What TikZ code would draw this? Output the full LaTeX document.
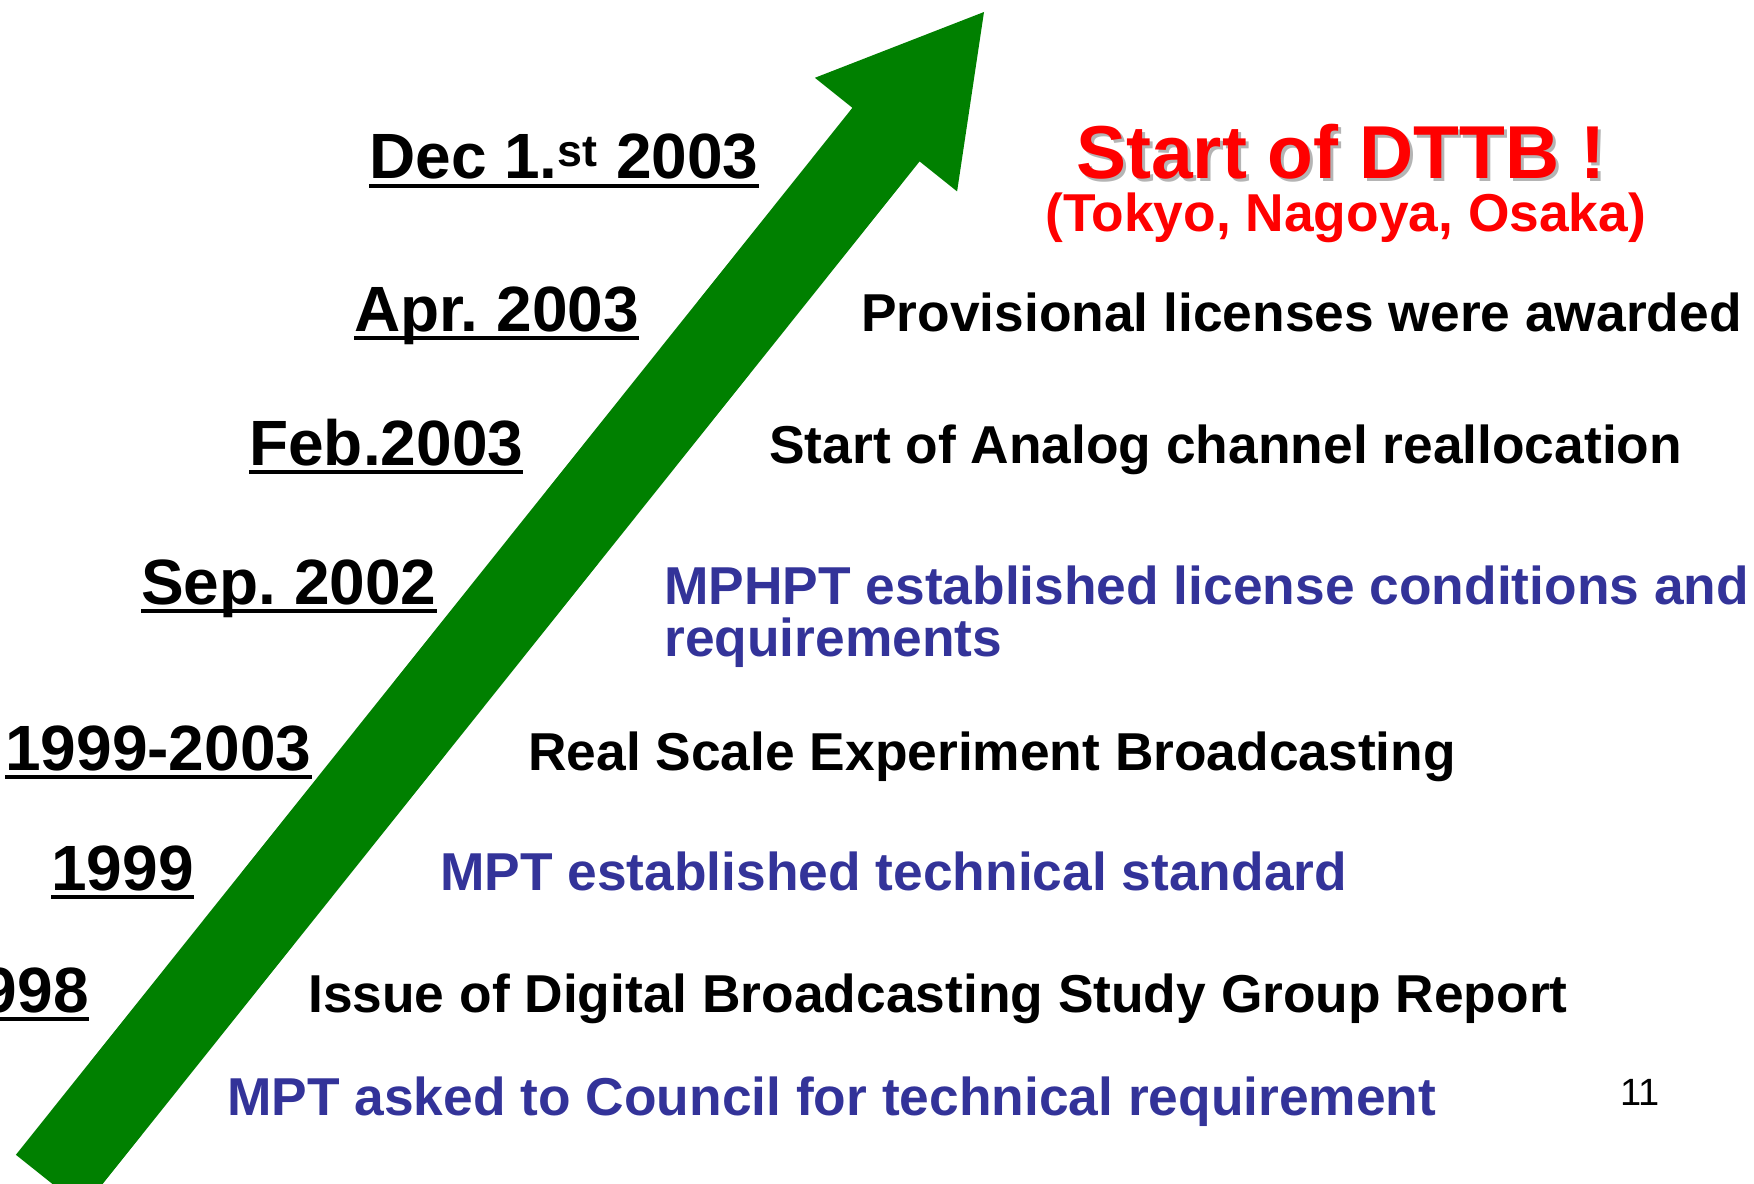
\documentclass[tikz,border=0pt]{standalone}
\usepackage{fontspec}
\setmainfont{Liberation Sans}
\usetikzlibrary{calc}
\definecolor{arrowgreen}{HTML}{008000}
\definecolor{mptblue}{HTML}{333399}
\definecolor{alertred}{HTML}{FF0000}
\definecolor{dropgray}{HTML}{B4B4B4}
\frenchspacing

\begin{document}
\begin{tikzpicture}[
  x=0.75pt,y=-0.75pt,
  every node/.style={inner sep=0pt,anchor=base west},
  date/.style={font=\bfseries\fontsize{48}{58}\selectfont},
  event/.style={font=\bfseries\fontsize{40}{48}\selectfont},
  mpt/.style={event,mptblue},
  headline/.style={font=\bfseries\fontsize{56.25}{66}\selectfont},
  uline/.style={line width=3pt}
]
\useasboundingbox (0,0) rectangle (1754,1184);
\fill[arrowgreen] (984,12) -- (814.9,77.8) -- (852.4,107.8) -- (15.9,1154.8)
  -- (83.1,1208.4) -- (919.6,161.4) -- (957.1,191.4) -- cycle;

\node[date] (dec03) at (369,179) {Dec 1.\textsuperscript{st} 2003};
\node[date] (apr03) at (354,331) {Apr. 2003};
\node[date] (feb03) at (249,465) {Feb.2003};
\node[date] (sep02) at (141,604) {Sep. 2002};
\node[date] (y9903) at (5,770) {1999-2003};
\node[date] (y99) at (51,890) {1999};
\node[date,anchor=base east] (y98) at (89,1012) {1998};
\foreach \d in {dec03,apr03,feb03,sep02,y9903,y99,y98}
  \draw[uline] ($(\d.base west)+(0,7)$) -- ($(\d.base east)+(0,7)$);

\node[headline,dropgray] (dttbshadow) at (1079,182) {Start of DTTB !};
\node[headline,alertred] (dttb) at (1076,179) {Start of DTTB !};
\node[event,alertred] (cities) at (1045,232) {(Tokyo, Nagoya, Osaka)};
\node[event] (licence) at (861,331) {Provisional licenses were awarded};
\node[event] (realloc) at (769,463) {Start of Analog channel reallocation};
\node[mpt] (cond) at (664,604) {MPHPT established license conditions and};
\node[mpt] (req) at (664,656) {requirements};
\node[event] (experiment) at (528,770) {Real Scale Experiment Broadcasting};
\node[mpt] (standard) at (440,890) {MPT established technical standard};
\node[event] (report) at (308,1012) {Issue of Digital Broadcasting Study Group Report};
\node[mpt] (council) at (227,1115) {MPT asked to Council for technical requirement};
\node[font=\fontsize{28.5}{34}\selectfont] (page) at (1620,1105) {11};
\end{tikzpicture}
\end{document}
